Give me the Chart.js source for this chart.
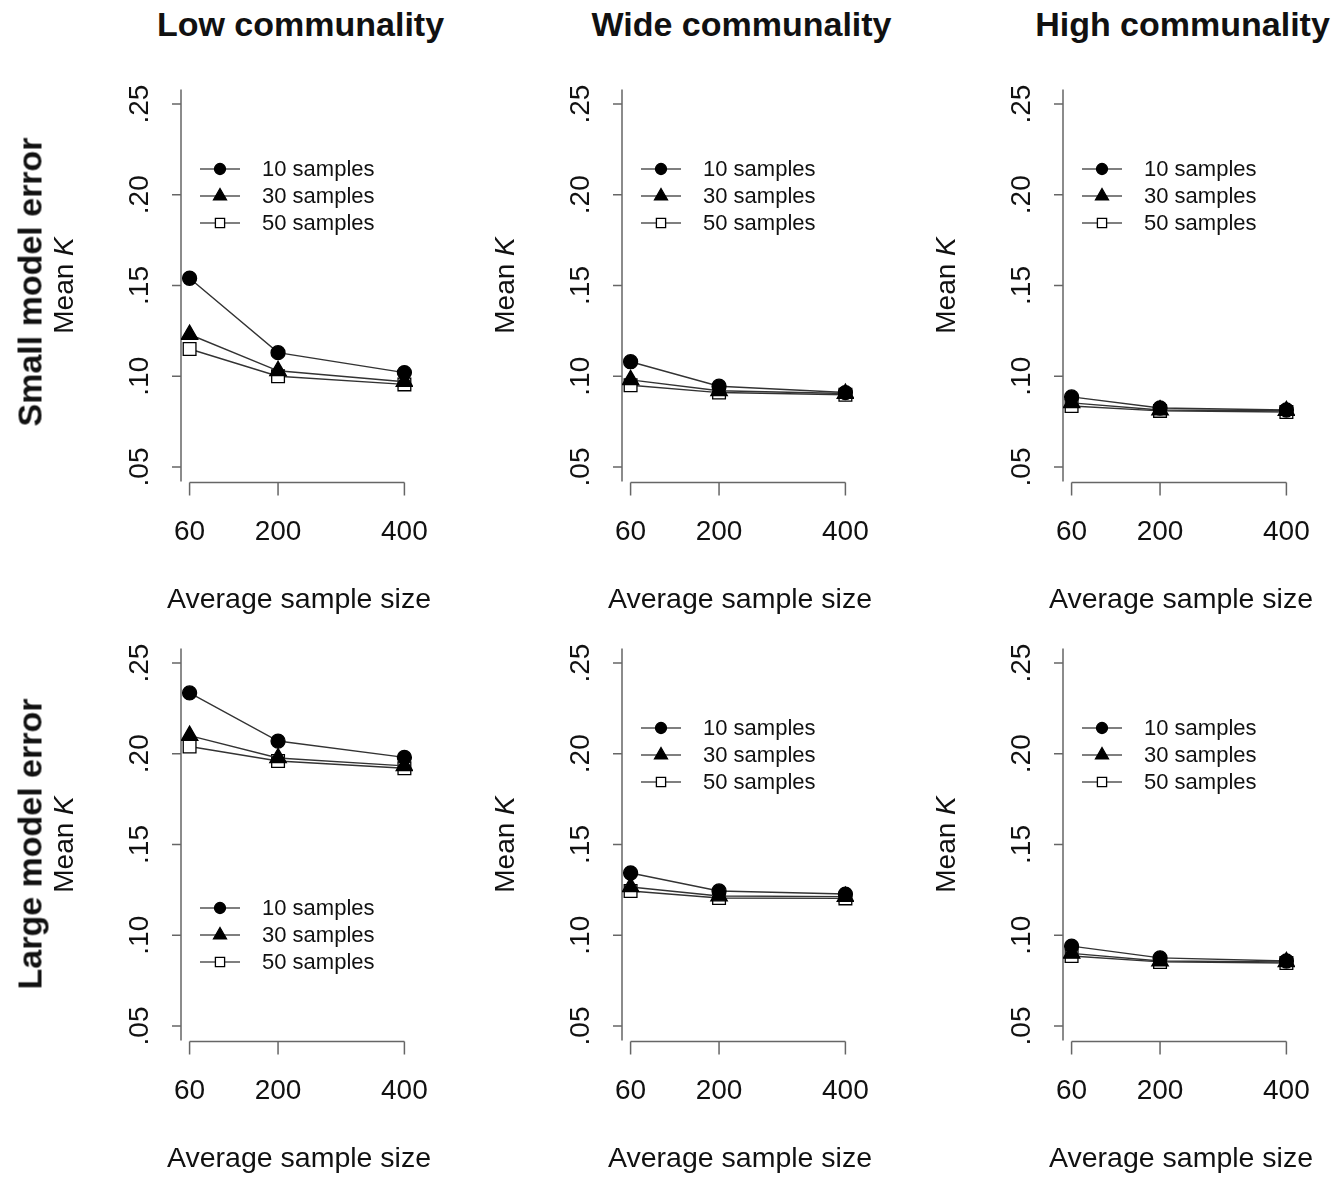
<!DOCTYPE html>
<html>
<head>
<meta charset="utf-8">
<script src="https://cdn.jsdelivr.net/npm/chart.js@4.4.1/dist/chart.umd.min.js"></script>
<style>
  body { margin: 0; background: #fff; width: 1335px; height: 1178px; position: relative; overflow: hidden; font-family: "Liberation Sans", Arial, sans-serif; }
  canvas { position: absolute; }
  .title { position: absolute; top: 5px; width: 441px; text-align: center; font-weight: bold; font-size: 34px; color: #111; }
  .row { position: absolute; left: 30px; font-weight: bold; font-size: 34px; color: #111; white-space: nowrap;
         transform: translate(-50%, -50%) rotate(-90deg); z-index: 2; }
</style>
</head>
<body>
<script>
const xTicks = [60, 200, 400];
const yTicks = [0.05, 0.10, 0.15, 0.20, 0.25];
const yTickLabels = ['.05', '.10', '.15', '.20', '.25'];
const seriesLabels = ['10 samples', '30 samples', '50 samples'];
const colTitles = ['Low communality', 'Wide communality', 'High communality'];
const rowTitles = ['Small model error', 'Large model error'];

// Mean K at N = 60, 200, 400 for 10 / 30 / 50 samples
const smallLow  = [[0.154, 0.113, 0.102], [0.123, 0.103, 0.097], [0.115, 0.100, 0.0955]];
const smallWide = [[0.108, 0.0945, 0.091], [0.098, 0.092, 0.0905], [0.095, 0.091, 0.0898]];
const smallHigh = [[0.0886, 0.0825, 0.0814], [0.0853, 0.0814, 0.081], [0.0836, 0.0809, 0.0803]];
const largeLow  = [[0.2335, 0.207, 0.198], [0.210, 0.1977, 0.1933], [0.204, 0.196, 0.192]];
const largeWide = [[0.1343, 0.1244, 0.1227], [0.1266, 0.1216, 0.1213], [0.1244, 0.1205, 0.1203]];
const largeHigh = [[0.094, 0.0875, 0.0858], [0.090, 0.0858, 0.0853], [0.0886, 0.0853, 0.0847]];

const panels = [
  [smallLow, smallWide, smallHigh],
  [largeLow, largeWide, largeHigh]
];
// legend sits high in the plot, except where the lines are up there
const legendLow = [[false, false, false], [true, false, false]];

const styles = [
  { pointStyle: 'circle', radius: 7, legendRadius: 5.5, fill: '#000' },
  { pointStyle: 'triangle', radius: 9.5, legendRadius: 7.5, fill: '#000' },
  { pointStyle: 'rect', radius: 9, legendRadius: 6.5, fill: '#fff' }
];

const FONT = '"Liberation Sans", Arial, sans-serif';

function marker(ctx, style, r, x, y) {
  ctx.beginPath();
  if (style === 'circle') {
    ctx.arc(x, y, r, 0, Math.PI * 2);
  } else if (style === 'triangle') {
    let a = 0;
    ctx.moveTo(x + Math.sin(a) * r, y - Math.cos(a) * r);
    a += Math.PI * 2 / 3;
    ctx.lineTo(x + Math.sin(a) * r, y - Math.cos(a) * r);
    a += Math.PI * 2 / 3;
    ctx.lineTo(x + Math.sin(a) * r, y - Math.cos(a) * r);
    ctx.closePath();
  } else {
    const s = r * Math.SQRT1_2;
    ctx.rect(x - s, y - s, 2 * s, 2 * s);
  }
}

const axesPlugin = {
  id: 'rAxes',
  beforeDatasetsDraw(chart) {
    const { ctx, chartArea: a, scales: { x, y } } = chart;
    ctx.save();
    ctx.strokeStyle = '#666';
    ctx.lineWidth = 1.5;
    // y axis
    ctx.beginPath();
    ctx.moveTo(a.left, a.top);
    ctx.lineTo(a.left, a.bottom);
    yTicks.forEach(v => {
      const py = y.getPixelForValue(v);
      ctx.moveTo(a.left - 9, py);
      ctx.lineTo(a.left, py);
    });
    // x axis
    const bx = a.bottom + 1;
    ctx.moveTo(x.getPixelForValue(xTicks[0]), bx);
    ctx.lineTo(x.getPixelForValue(xTicks[xTicks.length - 1]), bx);
    xTicks.forEach(v => {
      const px = x.getPixelForValue(v);
      ctx.moveTo(px, bx);
      ctx.lineTo(px, bx + 13);
    });
    ctx.stroke();

    ctx.fillStyle = '#111';
    ctx.font = '28px ' + FONT;
    ctx.textAlign = 'center';
    ctx.textBaseline = 'middle';
    xTicks.forEach(v => ctx.fillText(String(v), x.getPixelForValue(v), a.bottom + 51));
    ctx.font = '28.5px ' + FONT;
    ctx.fillText('Average sample size', (a.left + a.right) / 2 + 2, a.bottom + 119);
    ctx.font = '28px ' + FONT;

    yTicks.forEach((v, i) => {
      ctx.save();
      ctx.translate(a.left - 41, y.getPixelForValue(v));
      ctx.rotate(-Math.PI / 2);
      ctx.fillText(yTickLabels[i], 0, 0);
      ctx.restore();
    });

    // "Mean K" with italic K
    ctx.save();
    ctx.translate(a.left - 116, (a.top + a.bottom) / 2);
    ctx.rotate(-Math.PI / 2);
    ctx.textAlign = 'left';
    const t1 = 'Mean ';
    ctx.font = '28px ' + FONT;
    const w1 = ctx.measureText(t1).width;
    ctx.font = 'italic 28px ' + FONT;
    const w2 = ctx.measureText('K').width;
    const start = -(w1 + w2) / 2;
    ctx.font = '28px ' + FONT;
    ctx.fillText(t1, start, 0);
    ctx.font = 'italic 28px ' + FONT;
    ctx.fillText('K', start + w1, 0);
    ctx.restore();
    ctx.restore();
  },
  afterDatasetsDraw(chart, args, opts) {
    const { ctx, chartArea: a } = chart;
    const top = a.top + (opts.low ? 259.5 : 79.5);
    ctx.save();
    seriesLabels.forEach((lab, i) => {
      const yy = top + i * 27;
      ctx.strokeStyle = '#555';
      ctx.lineWidth = 1.3;
      ctx.beginPath();
      ctx.moveTo(a.left + 19, yy);
      ctx.lineTo(a.left + 59, yy);
      ctx.stroke();
      ctx.fillStyle = styles[i].fill;
      ctx.strokeStyle = '#000';
      marker(ctx, styles[i].pointStyle, styles[i].legendRadius, a.left + 39, yy);
      ctx.fill();
      ctx.stroke();
      ctx.fillStyle = '#111';
      ctx.font = '22px ' + FONT;
      ctx.textAlign = 'left';
      ctx.textBaseline = 'middle';
      ctx.fillText(lab, a.left + 81, yy + 1);
    });
    ctx.restore();
  }
};

colTitles.forEach((t, c) => {
  const d = document.createElement('div');
  d.className = 'title';
  d.style.left = (441 * c + 80) + 'px';
  d.textContent = t;
  document.body.appendChild(d);
});
rowTitles.forEach((t, r) => {
  const d = document.createElement('div');
  d.className = 'row';
  d.style.top = (282 + 562 * r) + 'px';
  d.textContent = t;
  document.body.appendChild(d);
});

panels.forEach((row, r) => {
  row.forEach((vals, c) => {
    const cv = document.createElement('canvas');
    cv.width = 441;
    cv.height = 570;
    cv.style.left = (441 * c) + 'px';
    cv.style.top = (50 + 559 * r) + 'px';
    document.body.appendChild(cv);

    new Chart(cv.getContext('2d'), {
      type: 'line',
      data: {
        datasets: vals.map((ys, i) => ({
          label: seriesLabels[i],
          data: ys.map((v, j) => ({ x: xTicks[j], y: v })),
          borderColor: '#333',
          borderWidth: 1.4,
          pointStyle: styles[i].pointStyle,
          pointRadius: styles[i].radius,
          pointBackgroundColor: styles[i].fill,
          pointBorderColor: '#000',
          pointBorderWidth: 1.3,
          tension: 0
        }))
      },
      options: {
        responsive: false,
        animation: false,
        devicePixelRatio: 1,
        layout: { padding: { left: 181, right: 28, top: 39.5, bottom: 138.5 } },
        scales: {
          x: { type: 'linear', min: 46.4, max: 413.6, display: false },
          y: { min: 0.042, max: 0.258, display: false }
        },
        plugins: {
          legend: { display: false },
          tooltip: { enabled: false },
          rAxes: { low: legendLow[r][c] }
        }
      },
      plugins: [axesPlugin]
    });
  });
});
</script>
</body>
</html>
